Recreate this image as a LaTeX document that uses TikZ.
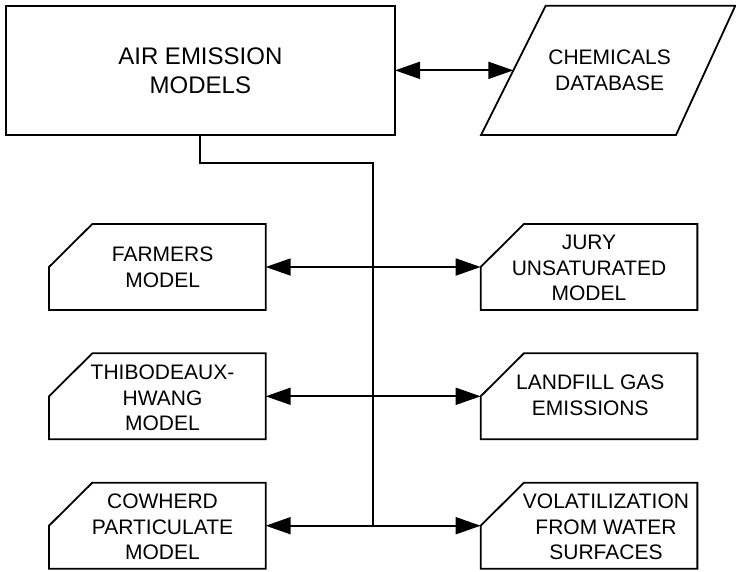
\documentclass[tikz,border=0pt]{standalone}
\usepackage{fontspec}
\setmainfont{Liberation Sans}
\usetikzlibrary{arrows.meta}
\tikzset{
  boxline/.style={draw=black, line width=1.8pt, line join=miter},
  cbox/.style={minimum width=216.7pt, minimum height=86pt, inner sep=0pt, outer sep=0pt},
  txt/.style={align=center, inner sep=0pt, font=\fontsize{21}{25.6}\selectfont},
  conn/.style={draw=black, line width=1.8pt},
  dbl/.style={conn, {Triangle[length=25pt,width=17pt]}-{Triangle[length=25pt,width=17pt]}}
}
\newcommand\chamfbox[1]{\draw[boxline] ([xshift=43.3pt]#1.north west) -- (#1.north east) -- (#1.south east) -- (#1.south west) -- (#1.west) -- cycle;}
\begin{document}
\begin{tikzpicture}[x=1pt,y=-1pt]
\useasboundingbox[fill=white] (0,0) rectangle (736,571);

% top row
\node[boxline, minimum width=389.3pt, minimum height=129.3pt, inner sep=0pt, outer sep=0pt,
      align=center, font=\fontsize{24}{29}\selectfont] (air) at (200.35,70.35) {AIR EMISSION\\MODELS};
\draw[boxline] (545.7,5.7) -- (735.3,5.7) -- (676,135) -- (481,135) -- cycle;
\node[txt] (chem) at (609.6,70.4) {CHEMICALS\\DATABASE};
\coordinate (chemw) at (513.35,70.35);
\draw[dbl] (air.east) -- (chemw);

% model boxes
\node[cbox] (f1) at (157.35,267) {};
\node[cbox] (t2) at (157.35,396.3) {};
\node[cbox] (c3) at (157.35,525.7) {};
\node[cbox] (j1) at (589,267) {};
\node[cbox] (l2) at (589,396.3) {};
\node[cbox] (v3) at (589,525.7) {};
\chamfbox{f1}\chamfbox{t2}\chamfbox{c3}
\chamfbox{j1}\chamfbox{l2}\chamfbox{v3}

\node[txt] (f1t) at (162.6,267) {FARMERS\\MODEL};
\node[txt] (t2t) at (162.5,397.8) {THIBODEAUX-\\HWANG\\MODEL};
\node[txt] (c3t) at (162.5,527) {COWHERD\\PARTICULATE\\MODEL};
\node[txt] (j1t) at (589,268) {JURY\\UNSATURATED\\MODEL};
\node[txt] (l2t) at (590.3,395.5) {LANDFILL GAS\\EMISSIONS};
\node[txt] (v3t) at (606,527) {VOLATILIZATION\\FROM WATER\\SURFACES};

% connectors
\coordinate (jn) at (373,0 |- c3.east);
\draw[conn] (air.south) -- ++(0,28) -| (jn);
\draw[dbl] (f1.east) -- (j1.west);
\draw[dbl] (t2.east) -- (l2.west);
\draw[dbl] (c3.east) -- (v3.west);
\end{tikzpicture}
\end{document}
